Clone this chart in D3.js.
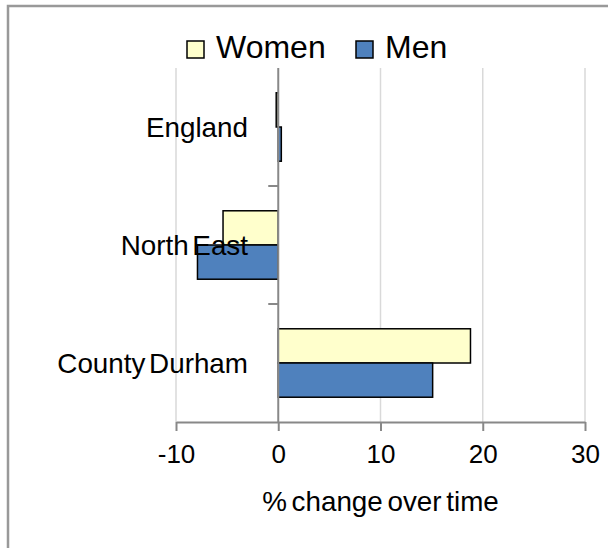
<!DOCTYPE html>
<html>
<head>
<meta charset="utf-8">
<script src="https://cdn.jsdelivr.net/npm/d3@7/dist/d3.min.js"></script>
<style>
  body { margin: 0; background: #fff; }
  text { font-family: "Liberation Sans", Arial, sans-serif; fill: #000; }
</style>
</head>
<body>
<div id="viz-container"></div>
<script>
// data
const areas = ["England", "North East", "County Durham"];
const seriesNames = ["Women", "Men"];
const women = [-0.2, -5.4, 18.8];
const men = [0.3, -7.9, 15.1];
const xTicks = [-10, 0, 10, 20, 30];

const colors = { Women: "#ffffcc", Men: "#4f81bd" };

const W = 608, H = 548;
const svg = d3.select("#viz-container").append("svg")
    .attr("width", W)
    .attr("height", H);

// outer frame
svg.append("rect")
    .attr("x", 8).attr("y", 6)
    .attr("width", W + 10).attr("height", H + 10)
    .attr("fill", "none")
    .attr("stroke", "#999")
    .attr("stroke-width", 2.5);

const margin = { top: 68, right: 23, bottom: 126, left: 176 },
    width = W - margin.left - margin.right,
    height = H - margin.top - margin.bottom;

const chart = svg.append("g")
    .attr("transform", `translate(${margin.left},${margin.top})`);

// scales
const x = d3.scaleLinear().domain([-10, 30]).range([0, width]);
const y0 = d3.scaleBand().domain(areas).range([0, height]).paddingInner(0.42).paddingOuter(0.21);
const y1 = d3.scaleBand().domain(seriesNames).range([0, y0.bandwidth()]);
const yStep = d3.scaleBand().domain(areas).range([0, height]);

// gridlines
chart.append("g").selectAll("line")
    .data(xTicks.filter(d => d !== 0))
    .enter().append("line")
    .attr("x1", d => x(d)).attr("x2", d => x(d))
    .attr("y1", 0).attr("y2", height)
    .attr("stroke", "#d9d9d9")
    .attr("stroke-width", 1.5);

const rows = areas.map((a, i) => ({ area: a, Women: women[i], Men: men[i] }));

// bars
const groups = chart.selectAll(".grp")
    .data(rows)
    .enter().append("g")
    .attr("transform", d => `translate(0,${y0(d.area)})`);

groups.selectAll("rect")
    .data(d => seriesNames.map(s => ({ key: s, value: d[s] })))
    .enter().append("rect")
    .attr("x", d => x(Math.min(0, d.value)))
    .attr("y", d => y1(d.key))
    .attr("width", d => Math.abs(x(d.value) - x(0)))
    .attr("height", y1.bandwidth())
    .attr("fill", d => colors[d.key])
    .attr("stroke", "#000")
    .attr("stroke-width", 1.5);

// zero axis (category axis)
chart.append("line")
    .attr("x1", x(0)).attr("x2", x(0))
    .attr("y1", 0).attr("y2", height)
    .attr("stroke", "#888")
    .attr("stroke-width", 2);

chart.append("g").selectAll("line")
    .data(areas.slice(1))
    .enter().append("line")
    .attr("x1", x(0) - 10).attr("x2", x(0))
    .attr("y1", d => yStep(d)).attr("y2", d => yStep(d))
    .attr("stroke", "#888")
    .attr("stroke-width", 2);

// category labels sit on top of the bars
chart.selectAll(".cat")
    .data(areas)
    .enter().append("text")
    .attr("x", 72)
    .attr("y", d => y0(d) + y0.bandwidth() / 2)
    .attr("dy", "0.36em")
    .attr("text-anchor", "end")
    .style("font-size", "27.8px")
    .style("word-spacing", "-4px")
    .text(d => d);

// bottom axis
const xAxis = chart.append("g")
    .attr("transform", `translate(0,${height})`)
    .call(d3.axisBottom(x).tickValues(xTicks).tickFormat(d => String(d))
        .tickSize(9).tickPadding(14).tickSizeOuter(0));
xAxis.select(".domain").attr("stroke", "#888").attr("stroke-width", 2);
xAxis.selectAll(".tick line").attr("stroke", "#888").attr("stroke-width", 2);
xAxis.selectAll(".tick text")
    .style("font-size", "26px")
    .style("font-family", "Liberation Sans, Arial, sans-serif");

svg.append("text")
    .attr("x", margin.left + x(10))
    .attr("y", 511)
    .attr("text-anchor", "middle")
    .style("font-size", "27.8px")
    .style("word-spacing", "-3px")
    .text("% change over time");

// legend
const legend = svg.append("g").attr("transform", "translate(187,41)");
const legItems = [{ key: "Women", x: 0 }, { key: "Men", x: 169 }];
legItems.forEach(it => {
    legend.append("rect")
        .attr("x", it.x).attr("y", 0)
        .attr("width", 17).attr("height", 17)
        .attr("fill", colors[it.key])
        .attr("stroke", "#000")
        .attr("stroke-width", 1.5);
    legend.append("text")
        .attr("x", it.x + 29).attr("y", 17)
        .style("font-size", "32px")
        .text(it.key);
});
</script>
</body>
</html>
